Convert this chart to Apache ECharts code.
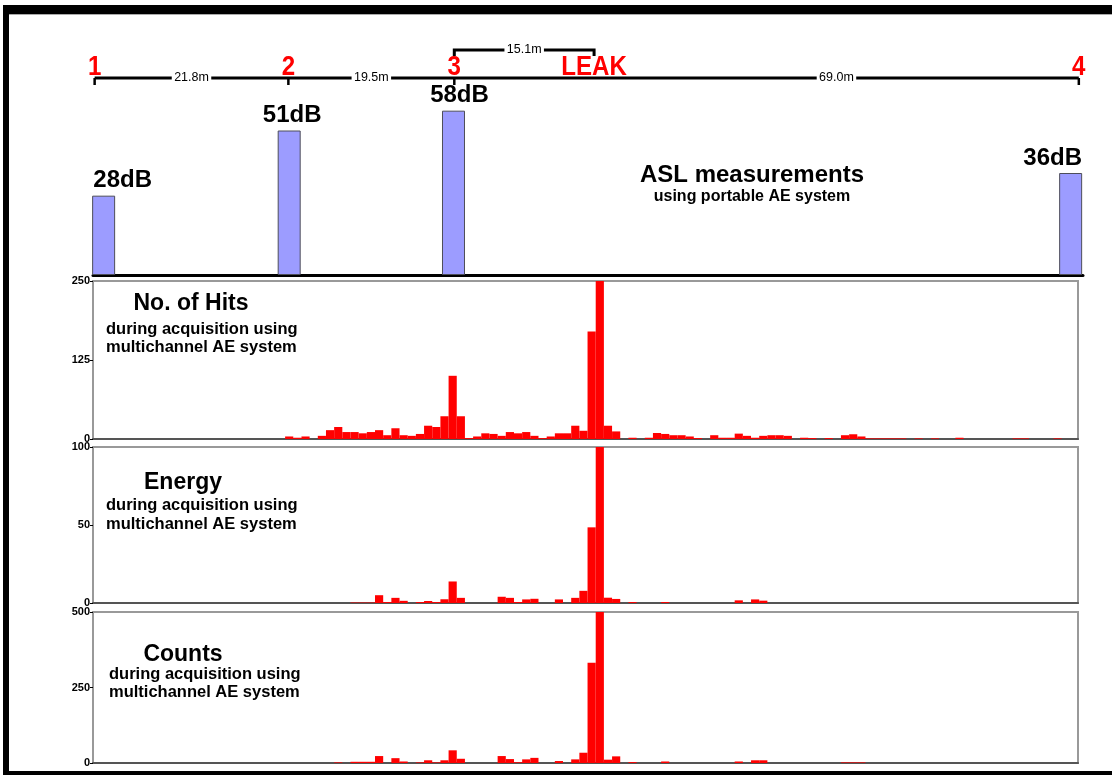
<!DOCTYPE html>
<html><head><meta charset="utf-8">
<script src="https://cdn.jsdelivr.net/npm/echarts@6/dist/echarts.min.js"></script>
<style>html,body{margin:0;padding:0;background:#fff}#c{width:1112px;height:775px}</style>
</head><body><div id="c"></div>
<script>
// ---------- data ----------
const sensorNames = ['1', '2', '3', '4'];
const sensorPos = [0.2, 23.9, 44.2, 120.6];      // positions along pipe (bin units)
const leakLabel = 'LEAK';
const leakPos = 61.3;
const spanLabels = ['21.8m', '19.5m', '69.0m'];   // 1-2, 2-3, LEAK-4
const leakSpanLabel = '15.1m';                     // 3-LEAK

const aslPos = [1.3, 24.0, 44.1, 119.6];
const aslDb = [28, 51, 58, 36];

const binStart = 24; // first bin of the histograms (bins 24..118)
const hits = [
  4, 2, 4, 0, 5, 14, 19, 11, 11, 9,
  11, 14, 6, 17, 6, 5, 8, 21, 19, 36,
  100, 36, 1.5, 4, 9, 8, 5, 11, 9, 11,
  5, 1.5, 4, 9, 9, 21, 13, 170, 250, 21,
  12, 0, 2, 0, 2, 9.5, 8, 6, 6, 4,
  1.5, 0, 6, 2, 2, 8.5, 5, 2, 5, 6,
  6, 5, 0, 2, 1.5, 0, 1.5, 0, 6, 7.5,
  4, 1, 1, 1, 1, 1, 0, 1, 0, 1,
  0, 0, 2, 0, 0, 0, 0, 0, 0, 1,
  1, 0, 0, 0, 1
];
const energy = [
  0, 0, 0, 0, 0, 0, 0, 0, 0.3, 0.3,
  0.3, 5, 0.6, 3.3, 1.4, 0, 0.6, 1.3, 0.6, 2.4,
  13.8, 3.3, 0, 0, 0, 0, 4, 3.3, 0.6, 2.3,
  2.7, 0, 0, 2.3, 0, 3.3, 7.8, 48.5, 100, 3.4,
  2.6, 0, 0.6, 0, 0, 0, 0.6, 0, 0, 0,
  0, 0, 0, 0, 0, 1.7, 0, 2.3, 1.5, 0,
  0, 0, 0, 0, 0, 0, 0, 0, 0, 0,
  0, 0, 0, 0, 0, 0, 0, 0, 0, 0,
  0, 0, 0, 0, 0, 0, 0, 0, 0, 0,
  0, 0, 0, 0, 0
];
const counts = [
  0, 0, 0, 0, 0, 0, 2, 0, 4, 4,
  4, 23, 0, 16, 5, 0, 2, 9, 2, 9,
  42, 14, 0, 0, 0, 0, 23, 13, 2.5, 12,
  17, 0, 0, 6.5, 0, 12, 34, 332, 500, 11,
  22, 0, 3, 0, 0, 0, 5, 0, 0, 0,
  0, 0, 0, 0, 0, 5, 0, 9, 9, 0,
  0, 0, 0, 0, 0, 0, 0, 0, 2, 2,
  2, 0, 0, 0, 0, 0, 0, 0, 0, 0,
  0, 0, 0, 0, 0, 0, 0, 0, 0, 0,
  0, 0, 0, 0, 0
];
const hitsTicks = [0, 250, 125];     // min, max, interval
const energyTicks = [0, 100, 50];
const countsTicks = [0, 500, 250];

// ---------- chart ----------
const F = "'Liberation Sans', Arial, Helvetica, sans-serif";
const X_MAX = 120.5;
const LINE_V = 12, BRACKET_V = 40, BRACKET_TICK_V = 34;

const chart = echarts.init(document.getElementById('c'), null, {renderer: 'canvas'});

function histX(g) {
  return {type: 'value', gridIndex: g, min: 0, max: X_MAX,
    axisLabel: {show: false}, axisTick: {show: false}, splitLine: {show: false},
    axisLine: {show: true, onZero: false, lineStyle: {color: '#555', width: 2}}};
}
function histY(g, t) {
  return {type: 'value', gridIndex: g, min: t[0], max: t[1], interval: t[2],
    axisLine: {show: false}, splitLine: {show: false},
    axisTick: {show: true, length: 3, lineStyle: {color: '#000', width: 1}},
    axisLabel: {fontSize: 11, fontWeight: 'bold', color: '#000', margin: 3, fontFamily: F}};
}
function histSeries(values, g) {
  return {
    type: 'custom', xAxisIndex: g, yAxisIndex: g, silent: true, clip: true,
    data: values.map((v, i) => [binStart + i, v]),
    encode: {x: 0, y: 1},
    renderItem: function (params, api) {
      const x = api.value(0), v = api.value(1);
      if (!v) return null;
      const p0 = api.coord([x - 0.5, v]);
      const p1 = api.coord([x + 0.5, 0]);
      return {type: 'rect',
        shape: {x: p0[0], y: p0[1], width: p1[0] - p0[0], height: p1[1] - p0[1]},
        style: {fill: '#ff0000'}};
    }
  };
}
// white-boxed small distance label
function distLabel(cx, cy, txt) {
  const w = txt.length * 7.5 + 2;
  return [
    {type: 'rect', shape: {x: cx - w / 2, y: cy - 6, width: w, height: 12}, style: {fill: '#fff'}, z2: 10},
    {type: 'text', x: cx, y: cy, z2: 11, style: {text: txt, fill: '#000', font: '12.5px ' + F,
      align: 'center', verticalAlign: 'middle'}}
  ];
}
function redLabel(x, y, txt) {
  return {type: 'text', x: x, y: y, scaleX: 0.86, scaleY: 1, z2: 11,
    style: {text: txt, x: 0, y: 0, fill: '#ff0000', font: 'bold 28px ' + F,
      align: 'center', verticalAlign: 'bottom'}};
}

const aslLabelShift = [[19, 0], [3, 0], [6, 0], [-18, 0]];
const spanMids = [
  (sensorPos[0] + sensorPos[1]) / 2,
  (sensorPos[1] + sensorPos[2]) / 2,
  (leakPos + sensorPos[3]) / 2
];

function subText(x, y, txt) {
  return {type: 'text', x: x, y: y, style: {text: txt, fill: '#000',
    font: 'bold 16.5px ' + F, align: 'left', verticalAlign: 'middle'}};
}
function titleText(x, y, txt) {
  return {type: 'text', x: x, y: y, style: {text: txt, fill: '#000',
    font: 'bold 23px ' + F, align: 'center', verticalAlign: 'middle'}};
}

const option = {
  backgroundColor: '#fff',
  animation: false,
  grid: [
    {left: 93, top: 30, width: 985, height: 60},                 // scale
    {left: 93, top: 105, width: 990, height: 170},               // ASL
    {left: 93, top: 281, width: 985, height: 158, show: true, borderColor: '#999', borderWidth: 2}, // hits
    {left: 93, top: 447, width: 985, height: 156, show: true, borderColor: '#999', borderWidth: 2}, // energy
    {left: 93, top: 612, width: 985, height: 151, show: true, borderColor: '#999', borderWidth: 2}  // counts
  ],
  xAxis: [
    {type: 'value', gridIndex: 0, min: 0, max: X_MAX, show: false},
    {type: 'value', gridIndex: 1, min: 0, max: X_MAX * 990 / 985,
      axisLabel: {show: false}, axisTick: {show: false}, splitLine: {show: false},
      axisLine: {show: true, onZero: false, lineStyle: {color: '#000', width: 3}}},
    histX(2), histX(3), histX(4)
  ],
  yAxis: [
    {type: 'value', gridIndex: 0, min: 0, max: 60, show: false},
    {type: 'value', gridIndex: 1, min: 0, max: 60, show: false},
    histY(2, hitsTicks), histY(3, energyTicks), histY(4, countsTicks)
  ],
  series: [
    // main scale line
    {type: 'line', xAxisIndex: 0, yAxisIndex: 0, silent: true, symbol: 'none', z: 1,
      data: [[sensorPos[0], LINE_V], [sensorPos[3], LINE_V]],
      lineStyle: {color: '#000', width: 3}},
    // sensor ticks + numbers
    {type: 'custom', xAxisIndex: 0, yAxisIndex: 0, silent: true, z: 5,
      data: sensorPos.map(p => [p, LINE_V]),
      renderItem: function (params, api) {
        const pt = api.coord([api.value(0), api.value(1)]);
        return {type: 'group', children: [
          {type: 'line', shape: {x1: pt[0], y1: pt[1], x2: pt[0], y2: pt[1] + 7},
            style: {stroke: '#000', lineWidth: 2.5}},
          redLabel(pt[0], pt[1] + 3, sensorNames[params.dataIndex])
        ]};
      }},
    // LEAK label
    {type: 'custom', xAxisIndex: 0, yAxisIndex: 0, silent: true, z: 5,
      data: [[leakPos, LINE_V]],
      renderItem: function (params, api) {
        const pt = api.coord([api.value(0), api.value(1)]);
        return redLabel(pt[0], pt[1] + 3, leakLabel);
      }},
    // span distance labels
    {type: 'custom', xAxisIndex: 0, yAxisIndex: 0, silent: true, z: 6,
      data: spanMids.map(m => [m, LINE_V]),
      renderItem: function (params, api) {
        const pt = api.coord([api.value(0), api.value(1)]);
        return {type: 'group', children: distLabel(pt[0], pt[1], spanLabels[params.dataIndex])};
      }},
    // bracket 3 -> LEAK
    {type: 'custom', xAxisIndex: 0, yAxisIndex: 0, silent: true, z: 6,
      data: [[sensorPos[2], leakPos]],
      renderItem: function (params, api) {
        const a = api.coord([api.value(0), BRACKET_V]);
        const b = api.coord([api.value(1), BRACKET_V]);
        const t = api.coord([api.value(0), BRACKET_TICK_V]);
        return {type: 'group', children: [
          {type: 'polyline', shape: {points: [[a[0], t[1]], [a[0], a[1]], [b[0], b[1]], [b[0], t[1]]]},
            style: {stroke: '#000', lineWidth: 3, fill: null}}
        ].concat(distLabel((a[0] + b[0]) / 2, a[1], leakSpanLabel))};
      }},
    // ASL bars
    {type: 'bar', xAxisIndex: 1, yAxisIndex: 1, silent: true, barWidth: 23,
      data: aslPos.map((p, i) => ({value: [p, aslDb[i]], label: {offset: aslLabelShift[i]}})),
      itemStyle: {color: '#9c9cff', borderColor: '#4d4d5a', borderWidth: 1},
      label: {show: true, position: 'top', distance: 3, color: '#000', fontSize: 24,
        fontWeight: 'bold', fontFamily: F, formatter: p => p.value[1] + 'dB'}},
    histSeries(hits, 2),
    histSeries(energy, 3),
    histSeries(counts, 4)
  ],
  graphic: [
    {type: 'rect', shape: {x: 3, y: 5, width: 1109, height: 9}, style: {fill: '#000'}},
    {type: 'rect', shape: {x: 3, y: 14, width: 1109, height: 1}, style: {fill: '#aaa'}},
    {type: 'rect', shape: {x: 3, y: 5, width: 6, height: 770}, style: {fill: '#000'}},
    {type: 'rect', shape: {x: 3, y: 771, width: 1109, height: 4}, style: {fill: '#000'}},
    {type: 'text', x: 752, y: 175, style: {text: 'ASL measurements', fill: '#000',
      font: 'bold 24px ' + F, align: 'center', verticalAlign: 'middle'}},
    {type: 'text', x: 752, y: 197, style: {text: 'using portable AE system', fill: '#000',
      font: 'bold 16px ' + F, align: 'center', verticalAlign: 'middle'}},
    titleText(191, 304, 'No. of Hits'),
    subText(106, 329, 'during acquisition using'),
    subText(106, 347, 'multichannel AE system'),
    titleText(183, 483, 'Energy'),
    subText(106, 505, 'during acquisition using'),
    subText(106, 524, 'multichannel AE system'),
    titleText(183, 655, 'Counts'),
    subText(109, 674, 'during acquisition using'),
    subText(109, 692, 'multichannel AE system')
  ]
};
chart.setOption(option);
</script>
</body></html>
